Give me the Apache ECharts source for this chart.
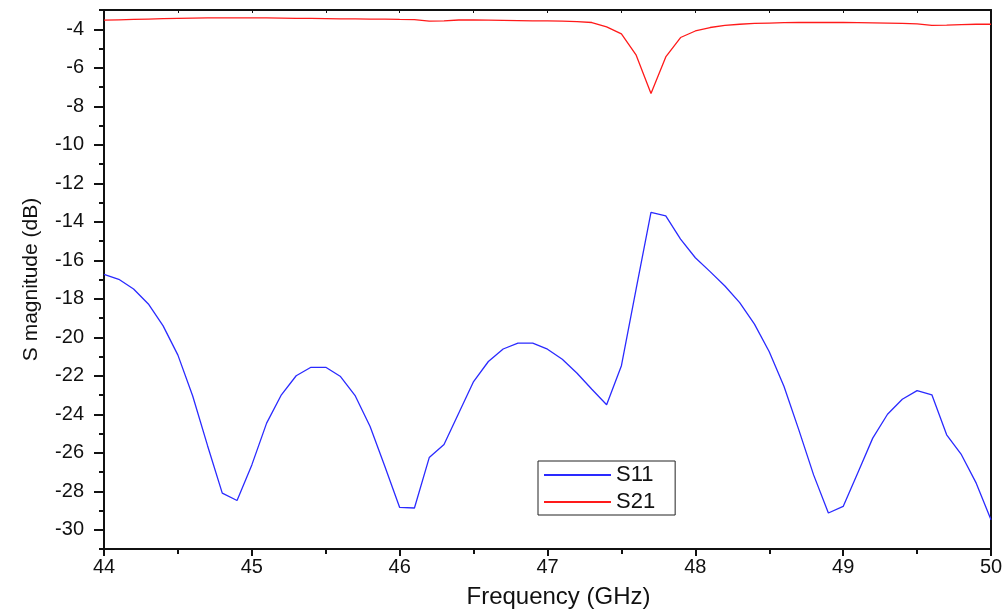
<!DOCTYPE html>
<html>
<head>
<meta charset="utf-8">
<script src="https://cdn.jsdelivr.net/npm/echarts@6/dist/echarts.min.js"></script>
<style>
  html, body { margin: 0; padding: 0; background: #fff; }
  #chart { width: 1006px; height: 614px; }
</style>
</head>
<body>
<div id="chart"></div>
<script>
// frequency points, GHz
var freq = [
  44.0, 44.1, 44.2, 44.3, 44.4, 44.5, 44.6, 44.7, 44.8, 44.9,
  45.0, 45.1, 45.2, 45.3, 45.4, 45.5, 45.6, 45.7, 45.8, 45.9,
  46.0, 46.1, 46.2, 46.3, 46.4, 46.5, 46.6, 46.7, 46.8, 46.9,
  47.0, 47.1, 47.2, 47.3, 47.4, 47.5, 47.6, 47.7, 47.8, 47.9,
  48.0, 48.1, 48.2, 48.3, 48.4, 48.5, 48.6, 48.7, 48.8, 48.9,
  49.0, 49.1, 49.2, 49.3, 49.4, 49.5, 49.6, 49.7, 49.8, 49.9,
  50.0
]
var s11 = [
  -16.73, -16.99, -17.49, -18.27, -19.41, -20.93, -23.05, -25.62, -28.10, -28.48,
  -26.63, -24.46, -22.99, -22.00, -21.56, -21.56, -22.04, -23.05, -24.64, -26.71,
  -28.84, -28.87, -26.25, -25.57, -23.94, -22.30, -21.26, -20.61, -20.31, -20.31,
  -20.62, -21.14, -21.87, -22.70, -23.51, -21.48, -17.48, -13.51, -13.69, -14.90,
  -15.87, -16.59, -17.34, -18.20, -19.32, -20.75, -22.56, -24.81, -27.15, -29.13,
  -28.79, -27.02, -25.24, -24.00, -23.22, -22.77, -22.99, -25.07, -26.10, -27.58,
  -29.48
]
var s21 = [
  -3.53, -3.51, -3.49, -3.47, -3.45, -3.43, -3.42, -3.41, -3.41, -3.41,
  -3.41, -3.41, -3.42, -3.43, -3.44, -3.45, -3.46, -3.46, -3.47, -3.47,
  -3.49, -3.50, -3.58, -3.57, -3.52, -3.52, -3.53, -3.54, -3.55, -3.56,
  -3.57, -3.58, -3.60, -3.65, -3.88, -4.24, -5.35, -7.34, -5.44, -4.43,
  -4.09, -3.91, -3.80, -3.74, -3.70, -3.68, -3.66, -3.65, -3.65, -3.65,
  -3.65, -3.66, -3.67, -3.68, -3.70, -3.72, -3.80, -3.79, -3.76, -3.74,
  -3.74
]
var yMajor = [-30, -28, -26, -24, -22, -20, -18, -16, -14, -12, -10, -8, -6, -4]
var yMinor = [-31, -29, -27, -25, -23, -21, -19, -17, -15, -13, -11, -9, -7, -5, -3]

function pairs(xs, ys) {
  return xs.map(function (x, i) { return [x, ys[i]] })
}

var chart = echarts.init(document.getElementById('chart'))
var font = 'Liberation Sans, Arial, sans-serif'
var ink = '#111'

var option = {
  animation: false,
  backgroundColor: '#fff',
  grid: { left: 104, right: 15, top: 10, bottom: 64 },
  legend: {
    orient: 'vertical',
    left: 538,
    top: 461,
    padding: [3, 20, 2, 5],
    itemGap: 5,
    itemWidth: 67,
    itemHeight: 14,
    itemStyle: { opacity: 0 },
    borderColor: '#222',
    borderWidth: 1,
    textStyle: { fontFamily: font, fontSize: 22, color: ink },
    data: ['S11', 'S21']
  },
  xAxis: [
    {
      type: 'value',
      min: 44,
      max: 50,
      interval: 1,
      name: 'Frequency (GHz)',
      nameLocation: 'middle',
      nameGap: 36,
      nameTextStyle: { fontFamily: font, fontSize: 24, color: ink, padding: [0, 0, 0, 22] },
      axisLine: { lineStyle: { color: ink, width: 2 } },
      axisTick: { length: 7, lineStyle: { color: ink, width: 2 } },
      minorTick: { show: true, splitNumber: 2, length: 5, lineStyle: { color: ink, width: 2 } },
      axisLabel: { fontFamily: font, fontSize: 20, color: ink, margin: 8 },
      splitLine: { show: false }
    },
    {
      type: 'value',
      position: 'top',
      min: 44,
      max: 50,
      interval: 0.5,
      axisLine: { lineStyle: { color: ink, width: 2 } },
      axisTick: { inside: true, length: 3, lineStyle: { color: ink, width: 1 } },
      axisLabel: { show: false },
      splitLine: { show: false }
    }
  ],
  yAxis: [
    {
      type: 'value',
      min: -31,
      max: -3,
      name: 'S magnitude (dB)',
      nameLocation: 'middle',
      nameGap: 62,
      nameTextStyle: { fontFamily: font, fontSize: 21, color: ink },
      axisLine: { show: true, lineStyle: { color: ink, width: 2 } },
      axisTick: { show: true, length: 10, customValues: yMajor, lineStyle: { color: ink, width: 2 } },
      axisLabel: { fontFamily: font, fontSize: 20, color: ink, margin: 20, customValues: yMajor },
      splitLine: { show: false }
    },
    {
      type: 'value',
      min: -31,
      max: -3,
      position: 'left',
      axisLine: { show: false },
      axisTick: { show: true, length: 5, customValues: yMinor, lineStyle: { color: ink, width: 2 } },
      axisLabel: { show: false },
      splitLine: { show: false }
    },
    {
      type: 'value',
      min: -31,
      max: -3,
      position: 'right',
      axisLine: { show: true, lineStyle: { color: ink, width: 2 } },
      axisTick: { show: false },
      axisLabel: { show: false },
      splitLine: { show: false }
    }
  ],
  series: [
    {
      name: 'S11',
      type: 'line',
      symbol: 'none',
      color: '#2a2aff',
      lineStyle: { width: 1.3, color: '#2a2aff' },
      data: pairs(freq, s11)
    },
    {
      name: 'S21',
      type: 'line',
      symbol: 'none',
      color: '#ff1a1a',
      lineStyle: { width: 1.3, color: '#ff1a1a' },
      data: pairs(freq, s21)
    }
  ]
}

chart.setOption(option)
</script>
</body>
</html>
